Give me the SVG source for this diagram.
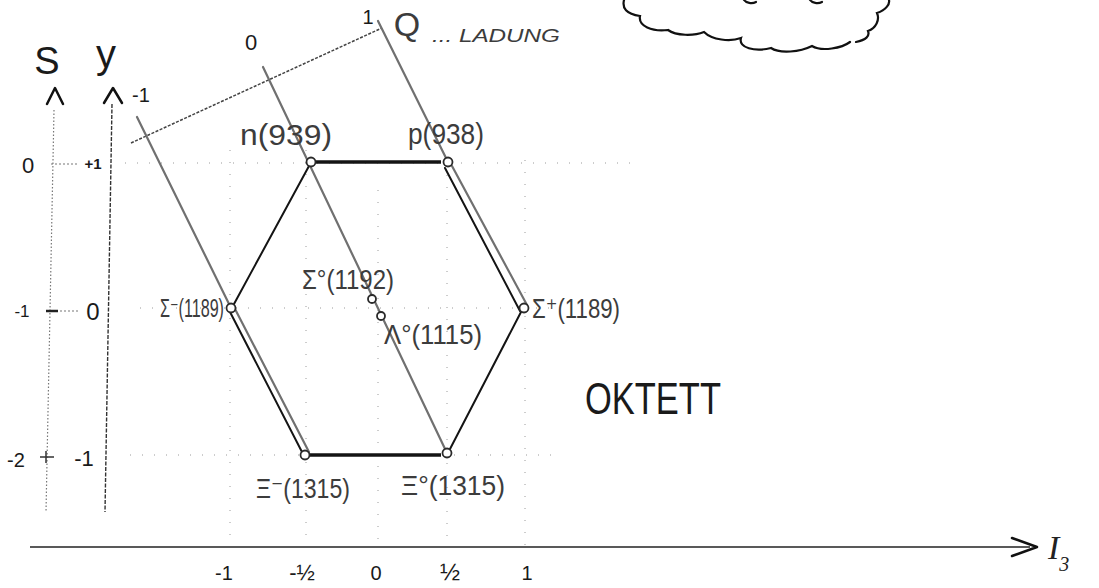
<svg xmlns="http://www.w3.org/2000/svg" width="1099" height="588" viewBox="0 0 1099 588">
<style>
.lbl{font-family:"Liberation Sans","DejaVu Sans",Arial,sans-serif;fill:#3c3c3c}
.ax{font-family:"Liberation Sans",Arial,sans-serif;fill:#1a1a1a}
.grid{stroke:#9a9a9a;stroke-width:1;stroke-dasharray:1 11;fill:none}
.q{stroke:#707070;stroke-width:2.2;fill:none;stroke-linecap:round}
.qaxis{stroke:#444;stroke-width:1.5;stroke-dasharray:3 1.5;fill:none}
.edge{stroke:#141414;stroke-width:2;fill:none;stroke-linecap:round}
.thick{stroke:#141414;stroke-width:3.5;fill:none}
.node{fill:#fff;stroke:#2a2a2a;stroke-width:1.8}
.arrow{stroke:#111;stroke-width:2.5;fill:none;stroke-linecap:round;stroke-linejoin:round}
.dots{stroke:#777;stroke-width:1.2;stroke-dasharray:2 2;fill:none}
</style>
<rect width="1099" height="588" fill="#fff"/>

<g id="cloud">
<path d="M624 0 C622 8 626 14 640 16 C638 26 652 32 668 30 C676 36 694 36 704 32 C712 40 730 42 741 38 C738 48 755 52 771 48 C780 54 800 52 812 46 C822 52 842 48 850 42 M856 42 C866 40 870 36 868 31 C876 28 880 20 877 13 C886 10 890 4 889 0 M744 0 C746 3 752 4 756 2 M810 0 C812 3 818 4 822 2" stroke="#111" stroke-width="2.2" fill="none" stroke-linecap="round"/>
</g>

<g id="grid">
<path class="grid" d="M125 163H640 M140 308H560 M130 455H560 M230 150V545 M306 150V545 M378 190V545 M447 175V545 M525 160V545"/>
</g>

<g id="axes">
<path d="M54 110 L46 512" stroke="#777" stroke-width="1.2" stroke-dasharray="1.5 2" fill="none"/>
<path d="M112 104 L105 512" stroke="#333" stroke-width="1.4" stroke-dasharray="4 1.5" fill="none"/>
<polyline class="arrow" points="47,104 55,88 63,104"/>
<polyline class="arrow" points="104,103 113,88 122,103"/>
<text class="ax" x="47" y="74" font-size="38" text-anchor="middle">S</text>
<text class="ax" x="106" y="68" font-size="40" text-anchor="middle">y</text>
<text class="ax" x="28" y="173" font-size="22" text-anchor="middle">0</text>
<path class="dots" d="M51 164H77"/>
<text class="ax" x="93" y="169" font-size="15" font-weight="bold" text-anchor="middle">+1</text>
<text class="ax" x="22" y="317" font-size="17" text-anchor="middle">-1</text>
<path d="M46 311H58" stroke="#222" stroke-width="2.5"/>
<path class="dots" d="M60 311H80"/>
<text class="ax" x="93" y="320" font-size="24" text-anchor="middle">0</text>
<text class="ax" x="16" y="467" font-size="20" text-anchor="middle">-2</text>
<path d="M40 457H54 M46 451V463" stroke="#333" stroke-width="1.5"/>
<text class="ax" x="84" y="466" font-size="22" text-anchor="middle">-1</text>

<path class="qaxis" d="M131 143 L382 28"/>
<text class="ax" x="141" y="102" font-size="20" text-anchor="middle">-1</text>
<text class="ax" x="251" y="50" font-size="22" text-anchor="middle">0</text>
<text class="ax" x="368" y="24" font-size="20" text-anchor="middle">1</text>
<text class="lbl" x="407" y="36" font-size="34" text-anchor="middle" fill="#555">Q</text>
<text class="lbl" x="432" y="42" font-size="19" font-style="italic" fill="#666" textLength="128" lengthAdjust="spacingAndGlyphs">... LADUNG</text>

<path d="M30 547 H1030" stroke="#222" stroke-width="1.6" fill="none"/>
<polyline class="arrow" stroke-width="3.5" points="1012,538 1037,547 1012,556"/>
<text x="1048" y="559" font-family="'Liberation Serif',serif" font-style="italic" font-size="34" fill="#222">I<tspan font-size="20" dy="12">3</tspan></text>
<text class="ax" x="224" y="580" font-size="20" text-anchor="middle">-1</text>
<text class="ax" x="302" y="580" font-size="22" text-anchor="middle">-½</text>
<text class="ax" x="376" y="580" font-size="20" text-anchor="middle">0</text>
<text class="ax" x="450" y="580" font-size="24" text-anchor="middle">½</text>
<text class="ax" x="527" y="580" font-size="20" text-anchor="middle">1</text>
<text class="ax" x="585" y="414" font-size="44" textLength="136" lengthAdjust="spacingAndGlyphs" fill="#111">OKTETT</text>
</g>

<g id="connectors">
<path class="q" d="M137 117 L231 308"/>
<path class="q" d="M234 307 L309 452"/>
<path class="edge" d="M229 310 L302 452"/>
<path class="q" d="M263 67 L447 453"/>
<path class="q" stroke="#555" d="M378 21 L448 162"/>
<path class="q" d="M452 166 L527 305"/>
<path class="edge" d="M445 168 L520 311"/>
<path class="thick" d="M315 162 H441"/>
<path class="edge" d="M309 166 L234 304"/>
<path class="edge" d="M521 312 L450 449"/>
<path class="thick" d="M310 455 H441"/>
</g>

<g id="n"><circle class="node" cx="311" cy="162" r="4.5"/>
<text class="lbl" x="240" y="145" font-size="30" textLength="92" lengthAdjust="spacingAndGlyphs">n(939)</text></g>
<g id="p"><circle class="node" cx="448" cy="162" r="4.5"/>
<text class="lbl" x="408" y="144" font-size="30" textLength="76" lengthAdjust="spacingAndGlyphs">p(938)</text></g>
<g id="sigma-minus"><circle class="node" cx="231" cy="308" r="4.5"/>
<text class="lbl" x="160" y="317" font-size="25" textLength="64" lengthAdjust="spacingAndGlyphs">Σ⁻(1189)</text></g>
<g id="sigma-plus"><circle class="node" cx="524" cy="308" r="4.5"/>
<text class="lbl" x="532" y="318" font-size="28" textLength="88" lengthAdjust="spacingAndGlyphs">Σ⁺(1189)</text></g>
<g id="sigma-zero"><circle class="node" cx="372" cy="299" r="4"/>
<text class="lbl" x="302" y="289" font-size="28" textLength="92" lengthAdjust="spacingAndGlyphs">Σ°(1192)</text></g>
<g id="lambda-zero"><circle class="node" cx="381" cy="316" r="4"/>
<text class="lbl" x="384" y="344" font-size="28" textLength="98" lengthAdjust="spacingAndGlyphs">Λ°(1115)</text></g>
<g id="xi-minus"><circle class="node" cx="305" cy="455" r="4.5"/>
<text class="lbl" x="256" y="498" font-size="28" textLength="94" lengthAdjust="spacingAndGlyphs">Ξ⁻(1315)</text></g>
<g id="xi-zero"><circle class="node" cx="447" cy="453" r="4.5"/>
<text class="lbl" x="401" y="495" font-size="28" textLength="104" lengthAdjust="spacingAndGlyphs">Ξ°(1315)</text></g>
</svg>
